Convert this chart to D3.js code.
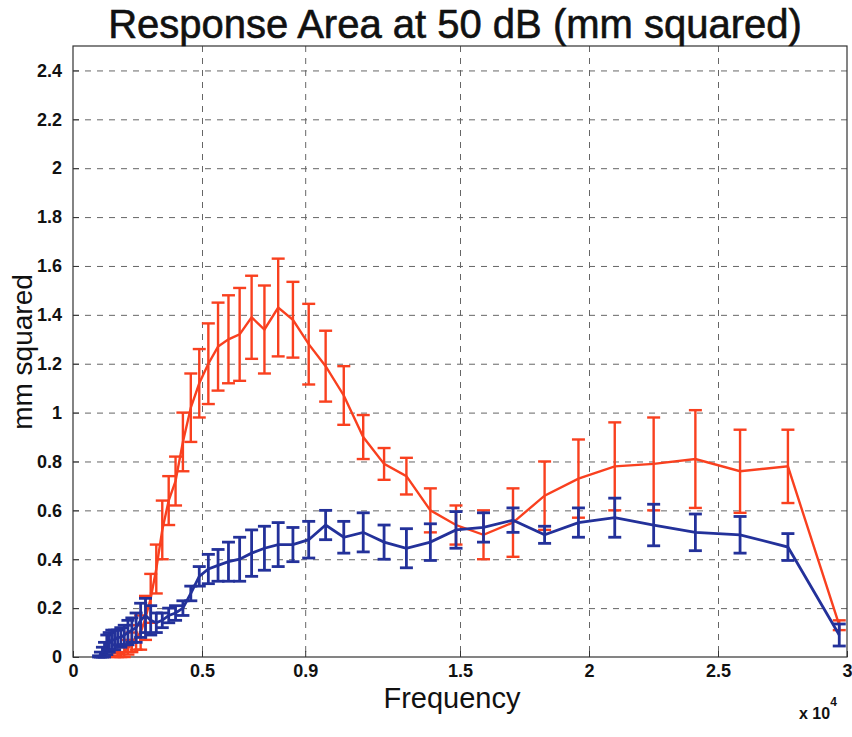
<!DOCTYPE html>
<html>
<head>
<meta charset="utf-8">
<script src="https://cdn.jsdelivr.net/npm/d3@7"></script>
<style>
  body { margin: 0; background: #fff; }
  text { font-family: "Liberation Sans", Arial, Helvetica, sans-serif; fill: #111; }
</style>
</head>
<body>
<svg id="chart" width="852" height="737"></svg>
<script>
// frequencies (Hz), shared by both curves
const freqs = [993, 1064, 1141, 1222, 1310, 1404, 1505, 1613, 1729, 1854, 1987, 2129, 2282, 2446, 2622, 2810,
  3012, 3228, 3460, 3709, 3975, 4260, 4566, 4894, 5246, 5622, 6026, 6459, 6923, 7420, 7953, 8524, 9136, 9792,
  10495, 11249, 12057, 12923, 13851, 14845, 15911, 17054, 18279, 19591, 20998, 22506, 24123, 25855, 27710, 29700];

// red curve (null where there is no point)
const redMean = [null, null, null, null, null, null, null,
  0.00, 0.005, 0.01, 0.02, 0.04, 0.06, 0.08, 0.10, 0.16, 0.24, 0.36, 0.52, 0.64, 0.72, 0.88, 1.02, 1.12,
  1.20, 1.27, 1.30, 1.32, 1.39, 1.34, 1.43, 1.38, 1.28, 1.19, 1.07, 0.90, 0.79, 0.74, 0.60, 0.54, 0.50,
  0.55, 0.66, 0.73, 0.78, 0.79, 0.81, 0.76, 0.78, 0.13];
const redErr = [null, null, null, null, null, null, null,
  0.005, 0.01, 0.01, 0.02, 0.03, 0.04, 0.05, 0.07, 0.09, 0.10, 0.10, 0.12, 0.10, 0.10, 0.12, 0.14, 0.14,
  0.165, 0.18, 0.18, 0.19, 0.17, 0.18, 0.20, 0.155, 0.165, 0.145, 0.12, 0.09, 0.065, 0.075, 0.09, 0.08, 0.10,
  0.14, 0.14, 0.16, 0.18, 0.19, 0.20, 0.17, 0.15, 0.02];

// blue curve
const blueMean = [0.00, 0.01, 0.02, 0.03, 0.05, 0.06, 0.07, 0.07, 0.08, 0.08, 0.09, 0.10, 0.11, 0.12, 0.15,
  0.17, 0.15, 0.14, 0.15, 0.17, 0.18, 0.20, 0.26, 0.33, 0.36, 0.375, 0.39, 0.40, 0.425, 0.445, 0.46, 0.46,
  0.48, 0.54, 0.49, 0.51, 0.47, 0.445, 0.47, 0.52, 0.53, 0.56, 0.50, 0.55, 0.57, 0.54, 0.51, 0.50, 0.45, 0.09];
const blueErr = [0.005, 0.01, 0.02, 0.03, 0.04, 0.04, 0.04, 0.04, 0.03, 0.04, 0.04, 0.05, 0.05, 0.06, 0.07,
  0.07, 0.06, 0.04, 0.03, 0.03, 0.03, 0.03, 0.03, 0.04, 0.06, 0.065, 0.08, 0.09, 0.095, 0.09, 0.09, 0.07,
  0.075, 0.06, 0.065, 0.08, 0.07, 0.08, 0.075, 0.075, 0.06, 0.05, 0.035, 0.06, 0.08, 0.085, 0.075, 0.075, 0.055, 0.045];

const xTicks = [0, 5000, 9000, 15000, 20000, 25000, 30000];
const xTickLabels = ["0", "0.5", "0.9", "1.5", "2", "2.5", "3"];
const yTicks = [0, 0.2, 0.4, 0.6, 0.8, 1, 1.2, 1.4, 1.6, 1.8, 2, 2.2, 2.4];

const svg = d3.select("#chart");
const plotLeft = 73, plotRight = 847, plotTop = 46, plotBottom = 657;

const x = d3.scaleLinear().domain([0, 30000]).range([plotLeft, plotRight]);
const y = d3.scaleLinear().domain([0, 2.5]).range([plotBottom, plotTop]);

// dashed grid
const grid = svg.append("g")
  .attr("stroke", "#666")
  .attr("stroke-width", 1)
  .attr("stroke-dasharray", "6,6");
grid.selectAll(".gx").data(xTicks.slice(1, -1)).enter().append("line")
  .attr("x1", d => x(d) + 0.5).attr("x2", d => x(d) + 0.5)
  .attr("y1", plotTop).attr("y2", plotBottom);
grid.selectAll(".gy").data(yTicks.slice(1)).enter().append("line")
  .attr("x1", plotLeft).attr("x2", plotRight)
  .attr("y1", d => y(d) + 0.5).attr("y2", d => y(d) + 0.5);

// axes (ticks point inward like the original)
const xAxis = d3.axisBottom(x).tickValues(xTicks)
  .tickFormat((d, i) => xTickLabels[i]).tickSize(-6).tickPadding(7);
const yAxis = d3.axisLeft(y).tickValues(yTicks)
  .tickFormat(d => d3.format("~g")(d)).tickSize(-6).tickPadding(11);

const gx = svg.append("g").attr("transform", `translate(0,${plotBottom})`).call(xAxis);
const gy = svg.append("g").attr("transform", `translate(${plotLeft},0)`).call(yAxis);
[gx, gy].forEach(g => {
  g.select(".domain").remove();
  g.selectAll(".tick line").attr("stroke", "#333");
  g.selectAll(".tick text")
    .style("font-size", "18px")
    .style("font-weight", "bold")
    .attr("fill", "#111");
});

// plot box
svg.append("rect")
  .attr("x", plotLeft).attr("y", plotTop)
  .attr("width", plotRight - plotLeft).attr("height", plotBottom - plotTop)
  .attr("fill", "none").attr("stroke", "#333").attr("stroke-width", 1.2);

function drawSeries(means, errs, color, width) {
  const pts = freqs.map((f, i) => ({ f: f, m: means[i], e: errs[i] }))
    .filter(d => d.m !== null);
  const g = svg.append("g")
    .attr("stroke", color)
    .attr("stroke-width", width)
    .attr("fill", "none");
  const capW = 6.5;
  pts.forEach(d => {
    const lo = Math.max(0, d.m - d.e), hi = d.m + d.e;
    g.append("line").attr("x1", x(d.f)).attr("x2", x(d.f)).attr("y1", y(lo)).attr("y2", y(hi));
    g.append("line").attr("x1", x(d.f) - capW).attr("x2", x(d.f) + capW).attr("y1", y(lo)).attr("y2", y(lo));
    g.append("line").attr("x1", x(d.f) - capW).attr("x2", x(d.f) + capW).attr("y1", y(hi)).attr("y2", y(hi));
  });
  g.append("path")
    .attr("d", d3.line().x(d => x(d.f)).y(d => y(d.m))(pts));
}

drawSeries(redMean, redErr, "#f9401f", 2.4);
drawSeries(blueMean, blueErr, "#23319a", 2.8);

// titles
svg.append("text")
  .attr("x", 455).attr("y", 38)
  .attr("text-anchor", "middle")
  .style("font-size", "40px")
  .attr("stroke", "#111").attr("stroke-width", 0.6)
  .text("Response Area at 50 dB (mm squared)");

svg.append("text")
  .attr("x", 452).attr("y", 708)
  .attr("text-anchor", "middle")
  .style("font-size", "29px")
  .text("Frequency");

svg.append("text")
  .attr("transform", "translate(32,352) rotate(-90)")
  .attr("text-anchor", "middle")
  .style("font-size", "28px")
  .text("mm squared");

const expo = svg.append("text")
  .attr("x", 799).attr("y", 719)
  .style("font-size", "16px")
  .style("font-weight", "bold");
expo.append("tspan").text("x 10");
expo.append("tspan").attr("dy", -13).style("font-size", "12px").text("4");
</script>
</body>
</html>
